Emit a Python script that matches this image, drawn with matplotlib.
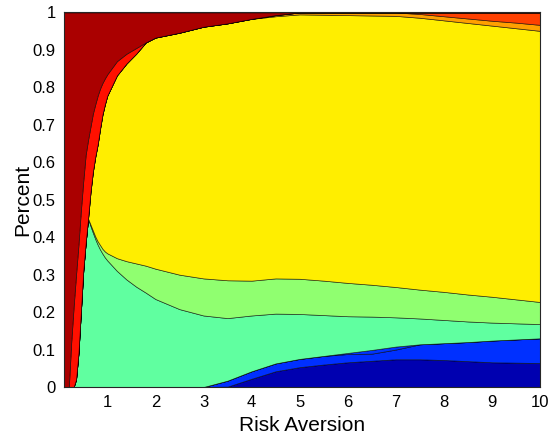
import matplotlib
matplotlib.use('Agg')
import matplotlib.pyplot as plt

plt.rcParams['font.family'] = ['Liberation Sans', 'DejaVu Sans']

# risk aversion grid
risk_aversion = [0.1, 0.15, 0.2, 0.25, 0.3, 0.35, 0.4, 0.45, 0.5, 0.55,
                 0.6, 0.65, 0.7, 0.75, 0.8, 0.85, 0.9, 0.95, 1.0, 1.2,
                 1.4, 1.6, 1.8, 2.0, 2.5, 3.0, 3.5, 4.0, 4.5, 5.0,
                 5.5, 6.0, 6.5, 7.0, 7.5, 8.0, 8.5, 9.0, 9.5, 10.0]

# portfolio shares, bottom layer first
dark_blue = [0, 0, 0, 0, 0, 0, 0, 0, 0, 0,
             0, 0, 0, 0, 0, 0, 0, 0, 0, 0,
             0, 0, 0, 0, 0, 0, 0.001, 0.022, 0.042, 0.053,
             0.06, 0.066, 0.07, 0.074, 0.074, 0.072, 0.069, 0.066, 0.065, 0.064]
blue = [0, 0, 0, 0, 0, 0, 0, 0, 0, 0,
        0, 0, 0, 0, 0, 0, 0, 0, 0, 0,
        0, 0, 0, 0, 0, 0, 0.016, 0.02, 0.021, 0.022,
        0.023, 0.022, 0.019, 0.026, 0.04, 0.045, 0.051, 0.058, 0.062, 0.066]
blue2 = [0, 0, 0, 0, 0, 0, 0, 0, 0, 0,
         0, 0, 0, 0, 0, 0, 0, 0, 0, 0,
         0, 0, 0, 0, 0, 0, 0, 0, 0, 0,
         0, 0.003, 0.01, 0.008, 0, 0, 0, 0, 0, 0]
cyan = [0, 0, 0, 0, 0, 0.02, 0.09, 0.2, 0.31, 0.385,
        0.45, 0.43, 0.412, 0.395, 0.38, 0.367, 0.356, 0.346, 0.338, 0.31,
        0.287, 0.268, 0.252, 0.235, 0.208, 0.191, 0.167, 0.149, 0.133, 0.12,
        0.109, 0.098, 0.089, 0.078, 0.069, 0.062, 0.055, 0.048, 0.043, 0.038]
light_green = [0, 0, 0, 0, 0, 0, 0, 0, 0, 0,
               0, 0.004, 0.006, 0.007, 0.009, 0.012, 0.013, 0.016, 0.019, 0.034,
               0.049, 0.062, 0.072, 0.081, 0.092, 0.099, 0.101, 0.093, 0.094, 0.094,
               0.092, 0.089, 0.085, 0.081, 0.077, 0.075, 0.072, 0.069, 0.064, 0.059]
yellow = [0, 0, 0, 0, 0, 0, 0, 0, 0, 0,
          0, 0.086, 0.157, 0.213, 0.259, 0.311, 0.359, 0.393, 0.421, 0.488,
          0.528, 0.56, 0.596, 0.617, 0.646, 0.672, 0.686, 0.699, 0.70, 0.706,
          0.71, 0.715, 0.719, 0.724, 0.726, 0.725, 0.725, 0.724, 0.724, 0.724]
orange = [0, 0, 0, 0, 0, 0, 0, 0, 0, 0,
          0, 0, 0, 0, 0, 0, 0, 0, 0, 0,
          0, 0, 0, 0, 0, 0, 0, 0, 0.003, 0.005,
          0.006, 0.007, 0.008, 0.009, 0.01, 0.011, 0.012, 0.013, 0.015, 0.016]
red_orange = [0, 0, 0, 0, 0, 0, 0, 0, 0, 0,
              0, 0, 0, 0, 0, 0, 0, 0, 0, 0,
              0, 0, 0, 0, 0, 0, 0, 0, 0, 0,
              0, 0, 0, 0, 0.004, 0.01, 0.016, 0.022, 0.027, 0.033]
red = [0, 0, 0, 0.12, 0.215, 0.28, 0.29, 0.27, 0.24, 0.235,
       0.21, 0.175, 0.155, 0.14, 0.13, 0.107, 0.084, 0.069, 0.057, 0.038,
       0.026, 0.015, 0, 0, 0, 0, 0, 0, 0, 0,
       0, 0, 0, 0, 0, 0, 0, 0, 0, 0]
dark_red = [1, 1, 1, 0.88, 0.785, 0.70, 0.62, 0.53, 0.45, 0.38,
            0.34, 0.305, 0.27, 0.245, 0.222, 0.203, 0.188, 0.176, 0.165, 0.13,
            0.11, 0.095, 0.08, 0.067, 0.054, 0.038, 0.029, 0.017, 0.007, 0,
            0, 0, 0, 0, 0, 0, 0, 0, 0, 0]

layers = [dark_blue, blue, blue2, cyan, light_green, yellow,
          orange, red_orange, red, dark_red]
colors = ['#0000B0', '#0030FF', '#0034FF', '#60FFA0', '#90FF70', '#FFEE00',
          '#FFA000', '#FF4000', '#FF1000', '#AA0000']

fig = plt.figure(figsize=(5.51, 4.34), dpi=100)
ax = fig.add_axes([0.1162, 0.1083, 0.8639, 0.8629])

ax.stackplot(risk_aversion, layers, colors=colors,
             edgecolor=(0, 0, 0, 0.7), linewidth=0.5)

ax.set_xlim(0.1, 10)
ax.set_ylim(0, 1)
ax.set_xticks(range(1, 11))
yt = [i / 10 for i in range(11)]
ax.set_yticks(yt)
ax.set_yticklabels(['0'] + ['%.1f' % v for v in yt[1:-1]] + ['1'])
ax.tick_params(length=0, labelsize=12, pad=6)

for s in ax.spines.values():
    s.set_color('#262626')
    s.set_linewidth(0.8)

ax.set_xlabel('Risk Aversion', fontsize=15, labelpad=4)
ax.set_ylabel('Percent', fontsize=15, labelpad=0)

plt.savefig('out.png', dpi=100)
plt.close()
